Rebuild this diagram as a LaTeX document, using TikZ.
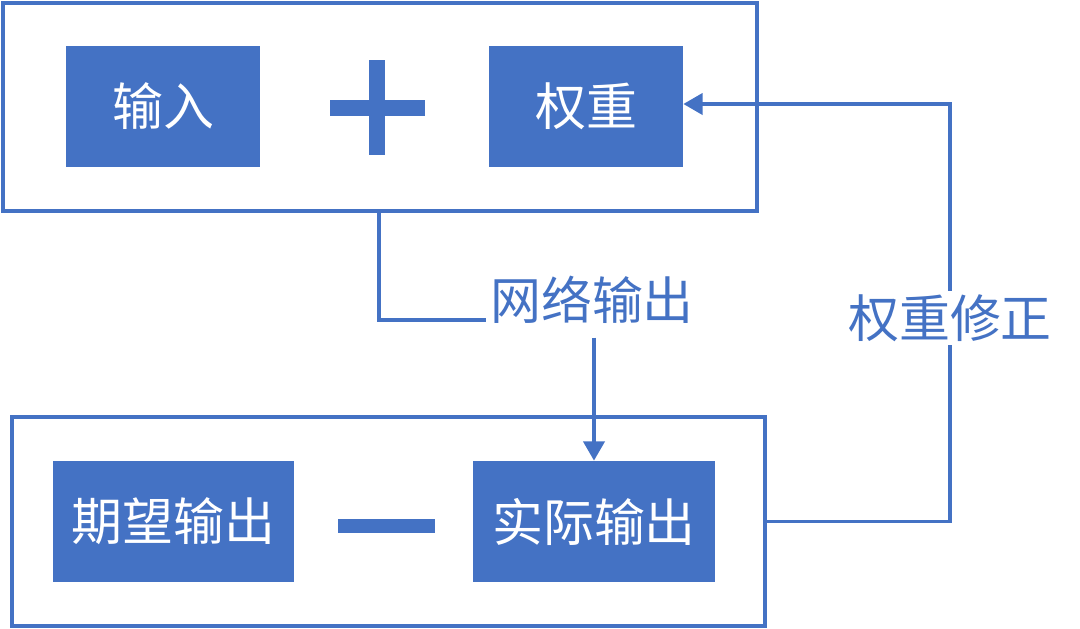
\documentclass[tikz,border=0pt]{standalone}
\usepackage{fontspec}
\newfontfamily\cjk{Noto Sans CJK SC}
\usepackage{tikz}
\usetikzlibrary{arrows.meta}
\definecolor{bl}{RGB}{68,114,196}

\begin{document}
\begin{tikzpicture}
			[x=0.02cm,y=-0.02cm,
			 fr/.style={draw=bl,line width=2.2pt,inner sep=0pt},
			 b/.style={fill=bl,text=white,inner sep=0pt,minimum height=2.42cm,font=\cjk\fontsize{29}{29}\selectfont},
			 lbl/.style={text=bl,inner sep=2pt,font=\cjk\fontsize{29}{29}\selectfont},
			 ln/.style={draw=bl,line width=2.2pt},
			 ar/.style={ln,-{Triangle[length=11pt,width=12pt]}}]

			\useasboundingbox (0,0) rectangle (1080,629);

			% top frame
			\node[fr,minimum width=15.08cm,minimum height=4.16cm] (top) at (380,107) {};
			\node[b,minimum width=3.88cm] (in) at (163,106.5) {输入};
			\node[b,minimum width=3.88cm] (wt) at (586,106.5) {权重};
			\fill[bl] (330,100) rectangle (425,116);
			\fill[bl] (369,60) rectangle (385,155);

			% bottom frame
			\node[fr,minimum width=15.06cm,minimum height=4.18cm] (bot) at (388.5,521.5) {};
			\node[b,minimum width=4.82cm] (exp) at (173.5,521.5) {期望输出};
			\node[b,minimum width=4.84cm] (act) at (594,521.5) {实际输出};
			\fill[bl] (338,519) rectangle (435,533);

			% network output
			\node[lbl] (net) at (592,300) {网络输出};
			\draw[ln] (top.south -| 379,0) |- (net.base west);
			\draw[ar] (net.south -| act.north) ++(0,10) -- (act.north);

			% weight correction
			\draw[ar] (bot.east) -| (950,104) -- (wt.east |- 0,104);
			\node[lbl,fill=white] (fix) at (950,318) {权重修正};

		\end{tikzpicture}
\end{document}
